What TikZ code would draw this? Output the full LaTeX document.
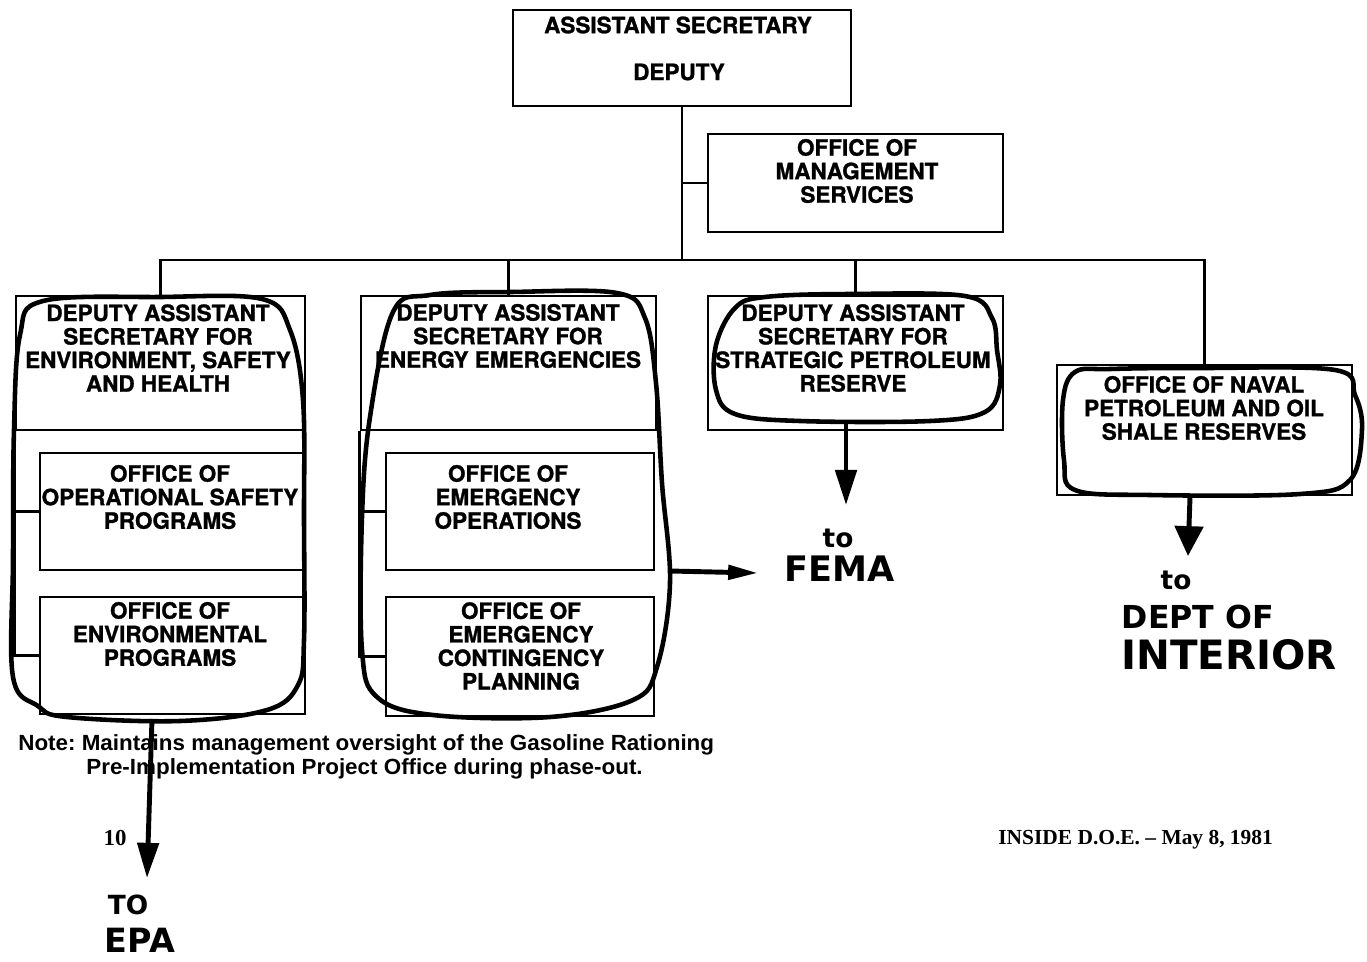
\documentclass[tikz,border=0pt]{standalone}
\usepackage{fontspec}
\setmainfont{Liberation Sans}
\newfontfamily\boxfont[BoldFeatures={FakeBold=1.2}]{TeX Gyre Heros}
\newfontfamily\notefont[FakeStretch=1.02]{Liberation Sans}
\newfontfamily\serifbold{Liberation Serif}
\newfontfamily\handfont{DejaVu Sans}
\usetikzlibrary{arrows.meta,calc}

\tikzset{
  orgbox/.style={draw, line width=1.5pt, inner sep=0pt},
  boxtext/.style={font=\boxfont\bfseries\fontsize{12.8}{13.4}\selectfont, align=center, inner sep=0pt},
  link/.style={line width=1.5pt},
  loopline/.style={line width=2.6pt, line join=round},
  handarrow/.style={line width=2.8pt, -{Triangle[length=20pt,width=12pt]}},
  handtext/.style={font=\handfont\bfseries, inner sep=0pt},
  notetext/.style={font=\notefont\bfseries\fontsize{12.5}{13}\selectfont, inner sep=0pt, anchor=west}
}

\begin{document}
\frenchspacing
\begin{tikzpicture}[x=0.02cm, y=-0.02cm]
\useasboundingbox (0,0) rectangle (1367,961);

% ---- boxes ----
\node[orgbox, minimum width=6.76cm, minimum height=1.92cm] (top)   at (682,58) {};
\node[orgbox, minimum width=5.9cm,  minimum height=1.96cm] (mgmt)  at (855.5,183) {};
\node[orgbox, minimum width=5.78cm, minimum height=2.68cm] (esh)   at (160.5,363) {};
\node[orgbox, minimum width=5.3cm,  minimum height=2.34cm] (osp)   at (172.5,511.5) {};
\node[orgbox, minimum width=5.3cm,  minimum height=2.34cm] (oep)   at (172.5,655.5) {};
\node[orgbox, minimum width=5.9cm,  minimum height=2.68cm] (ee)    at (508.5,363) {};
\node[orgbox, minimum width=5.36cm, minimum height=2.34cm] (eops)  at (520,511.5) {};
\node[orgbox, minimum width=5.36cm, minimum height=2.38cm] (ecp)   at (520,656.5) {};
\node[orgbox, minimum width=5.9cm,  minimum height=2.68cm] (spr)   at (855.5,363) {};
\node[orgbox, minimum width=5.9cm,  minimum height=2.6cm]  (naval) at (1204.5,430) {};

% ---- box texts ----
\node[boxtext] (tTop1) at (678,25) {ASSISTANT SECRETARY};
\node[boxtext] (tTop2) at (679,72) {DEPUTY};
\node[boxtext] (tMgmt) at (857,171) {OFFICE OF\\MANAGEMENT\\SERVICES};
\node[boxtext] (tEsh)  at (158,348) {DEPUTY ASSISTANT\\SECRETARY FOR\\ENVIRONMENT, SAFETY\\AND HEALTH};
\node[boxtext] (tOsp)  at (170,497) {OFFICE OF\\OPERATIONAL SAFETY\\PROGRAMS};
\node[boxtext] (tOep)  at (170,634) {OFFICE OF\\ENVIRONMENTAL\\PROGRAMS};
\node[boxtext] (tEe)   at (508,336) {DEPUTY ASSISTANT\\SECRETARY FOR\\ENERGY EMERGENCIES};
\node[boxtext] (tEops) at (508,497) {OFFICE OF\\EMERGENCY\\OPERATIONS};
\node[boxtext] (tEcp)  at (521,646) {OFFICE OF\\EMERGENCY\\CONTINGENCY\\PLANNING};
\node[boxtext] (tSpr)  at (853,348) {DEPUTY ASSISTANT\\SECRETARY FOR\\STRATEGIC PETROLEUM\\RESERVE};
\node[boxtext] (tNav)  at (1204,408) {OFFICE OF NAVAL\\PETROLEUM AND OIL\\SHALE RESERVES};

% ---- organisation lines ----
\coordinate (bus) at (682,260);
\draw[link] (top.south) -- (bus);
\draw[link] (mgmt.west) -- (mgmt.west -| top.south);
\draw[link] (esh.north) -- (esh.north |- bus) -- (naval.north |- bus) -- (naval.north);
\draw[link] (ee.north) -- (ee.north |- bus);
\draw[link] (spr.north) -- (spr.north |- bus);
% sub-office brackets
\draw[link] (esh.south west) |- (oep.west);
\draw[link] (esh.south west |- osp.west) -- (osp.west);
\draw[link] (ee.south west) |- (ecp.west);
\draw[link] (ee.south west |- eops.west) -- (eops.west);

% ---- note and footer ----
\node[notetext] (note1) at (18,745) {Note: Maintains management oversight of the Gasoline Rationing};
\node[notetext] (note2) at (86,769) {Pre-Implementation Project Office during phase-out.};
\node[font=\serifbold\bfseries\fontsize{12.2}{15}\selectfont, inner sep=0pt, anchor=west] (footer) at (998,840) {INSIDE D.O.E. – May 8, 1981};
\node[font=\serifbold\bfseries\fontsize{13}{15}\selectfont, inner sep=0pt] (page) at (115,838) {10};

% ---- hand-drawn loops ----
\draw[loopline] plot[smooth cycle, tension=0.6] coordinates {
  (160,297) (262,299) (290,330) (303,400) (304,520) (304,640) (298,685) (267,710)
  (180,721) (67,717) (38,706) (13,677) (13,560) (14,430) (20,335) (43,301)};
\draw[loopline] plot[smooth cycle, tension=0.6] coordinates {
  (510,292) (617,293) (645,318) (656,383) (662,483) (670,583) (657,667) (633,700)
  (550,717) (433,715) (377,697) (362,650) (362,517) (370,417) (393,312) (430,295)};
\draw[loopline] plot[smooth cycle, tension=0.6] coordinates {
  (850,294) (965,296) (992,318) (997,350) (1000,385) (985,412) (930,421) (800,421)
  (735,414) (716,390) (716,345) (735,308) (765,297)};
\draw[loopline] plot[smooth cycle, tension=0.6] coordinates {
  (1200,368) (1335,370) (1355,395) (1362,430) (1350,480) (1300,494) (1150,495)
  (1075,490) (1064,460) (1063,400) (1075,372) (1110,369)};

% ---- hand-drawn arrows and notes ----
\coordinate (eshOut) at (152,719);
\coordinate (epaTip) at (147,878);
\coordinate (eeOut) at (670,571);
\coordinate (femaTip) at (758,573);
\coordinate (sprOut) at (846,421);
\coordinate (sprTip) at (846,505);
\coordinate (navOut) at (1190,497);
\coordinate (navTip) at (1188,556);
\draw[handarrow] (eshOut) -- (epaTip);
\draw[handarrow, -{Triangle[length=17pt,width=8pt]}] (eeOut) -- (femaTip);
\draw[handarrow] (sprOut) -- (sprTip);
\draw[handarrow, -{Triangle[length=17pt,width=16pt]}] (navOut) -- (navTip);

\node[handtext, font=\handfont\bfseries\fontsize{15}{15}\selectfont] (toFema) at (838,538) {to};
\node[handtext, font=\handfont\bfseries\fontsize{20}{20}\selectfont] (fema) at (840,569) {FEMA};
\node[handtext, font=\handfont\bfseries\fontsize{15}{15}\selectfont] (toDoi) at (1176,580) {to};
\node[handtext, font=\handfont\bfseries\fontsize{18}{18}\selectfont] (dept) at (1198,617) {DEPT OF};
\node[handtext, font=\handfont\bfseries\fontsize{23}{23}\selectfont] (interior) at (1229,655) {INTERIOR};
\node[handtext, font=\handfont\bfseries\fontsize{15}{15}\selectfont] (toEpa) at (128,905) {TO};
\node[handtext, font=\handfont\bfseries\fontsize{19}{19}\selectfont] (epa) at (140,940) {EPA};
\end{tikzpicture}
\end{document}
